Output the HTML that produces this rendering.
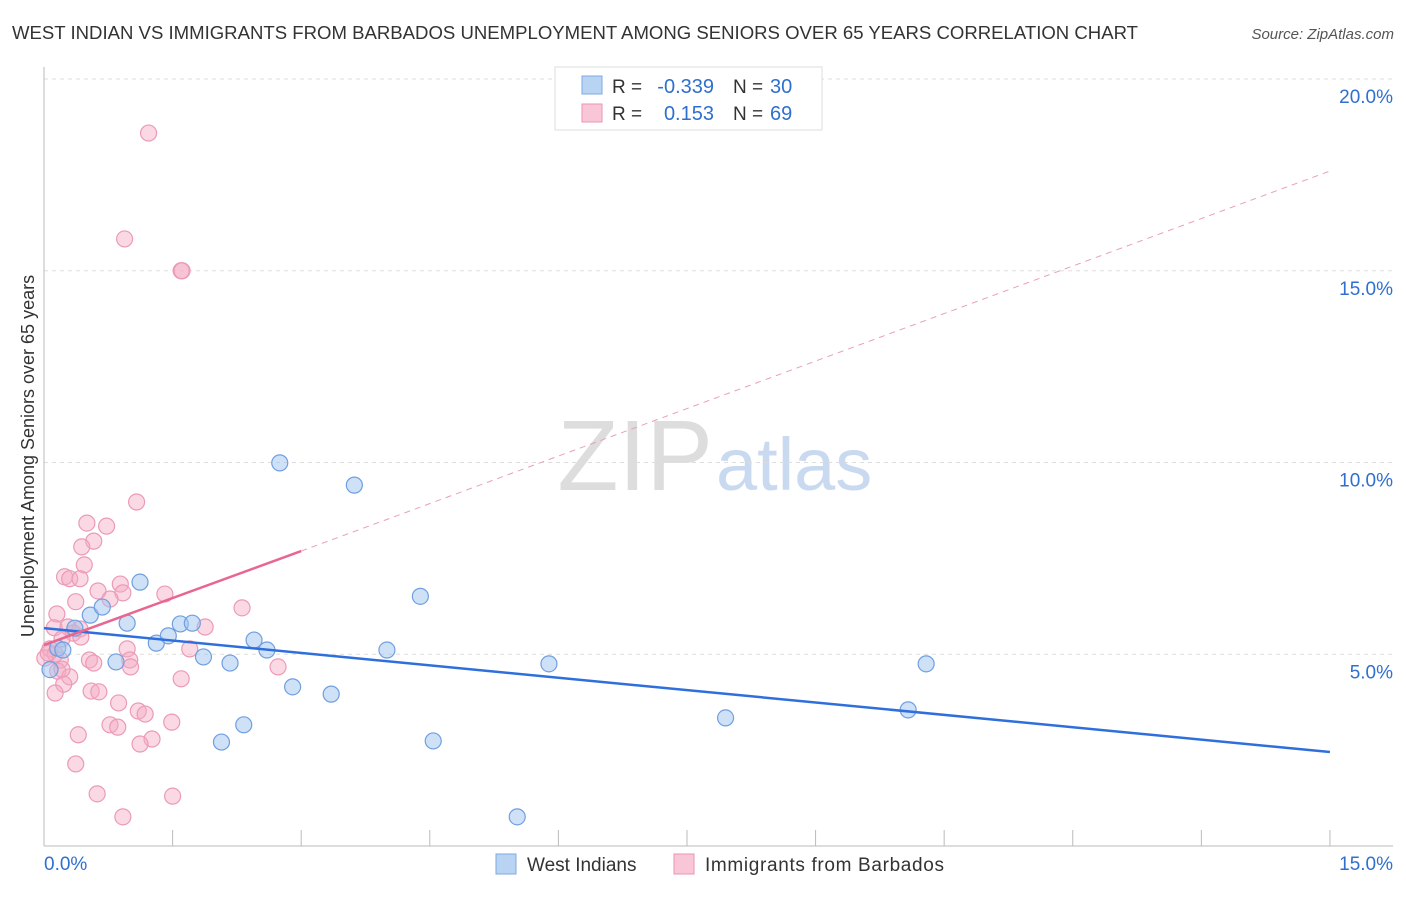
<!DOCTYPE html>
<html><head><meta charset="utf-8"><style>
body{margin:0;background:#fff;font-family:"Liberation Sans",sans-serif;}
svg text{font-family:"Liberation Sans",sans-serif;}
</style></head><body>
<svg id="chart" width="1406" height="892">
<text x="12" y="39" font-size="18" fill="#333" textLength="1126" lengthAdjust="spacingAndGlyphs">WEST INDIAN VS IMMIGRANTS FROM BARBADOS UNEMPLOYMENT AMONG SENIORS OVER 65 YEARS CORRELATION CHART</text>
<text x="1394" y="39" font-size="15" fill="#555" font-style="italic" text-anchor="end">Source: ZipAtlas.com</text>
<text x="713" y="490" font-size="100" fill="#ddd" text-anchor="end" font-family="Liberation Serif">ZIP</text>
<text x="716" y="490" font-size="74" fill="#c9daf0">atlas</text>
<g id="grid"></g><g id="axes"></g><g id="pts"></g><g id="lines"></g>
<text transform="translate(34,456) rotate(-90)" font-size="18" fill="#333" text-anchor="middle">Unemployment Among Seniors over 65 years</text>
<g>
<rect x="555" y="67" width="267" height="63" fill="#fff" stroke="#ddd"/>
<rect x="582" y="76" width="20" height="18" fill="#b9d3f3" stroke="#7ea8e0"/>
<rect x="582" y="104" width="20" height="18" fill="#f8c6d6" stroke="#eb95b2"/>
<text x="612" y="93" font-size="19" fill="#333">R =</text>
<text x="714" y="93" font-size="20" fill="#2f6fcf" text-anchor="end">-0.339</text>
<text x="733" y="93" font-size="19" fill="#333">N =</text>
<text x="770" y="93" font-size="20" fill="#2f6fcf">30</text>
<text x="612" y="120" font-size="19" fill="#333">R =</text>
<text x="714" y="120" font-size="20" fill="#2f6fcf" text-anchor="end">0.153</text>
<text x="733" y="120" font-size="19" fill="#333">N =</text>
<text x="770" y="120" font-size="20" fill="#2f6fcf">69</text>
</g>
<g>
<rect x="496" y="854" width="20" height="20" fill="#b9d3f3" stroke="#7ea8e0"/>
<text x="527" y="871" font-size="19" fill="#333">West Indians</text>
<rect x="674" y="854" width="20" height="20" fill="#f8c6d6" stroke="#eb95b2"/>
<text x="705" y="871" font-size="19" fill="#333" textLength="239">Immigrants from Barbados</text>
</g>
</svg>
<script>
const yTicks=[5,10,15,20];
const yTickLabels=["5.0%","10.0%","15.0%","20.0%"];
const xTicks=[0,1.5,3,4.5,6,7.5,9,10.5,12,13.5,15];
const blueX=[0.07,0.16,0.22,0.36,0.54,0.68,0.84,0.97,1.12,1.31,1.45,1.59,1.73,1.86,2.17,2.33,2.07,2.45,2.6,2.75,2.9,3.35,3.62,4.0,4.39,4.54,5.52,5.89,7.95,10.08,10.29];
const blueY=[4.6,5.16,5.11,5.68,6.02,6.23,4.8,5.81,6.88,5.29,5.48,5.79,5.81,4.93,4.77,3.16,2.71,5.37,5.11,9.99,4.15,3.96,9.41,5.11,6.51,2.74,0.76,4.75,3.34,3.55,4.75];
const pinkX=[1.22,0.94,1.6,1.61,1.08,0.5,0.73,0.58,0.44,0.47,0.24,0.3,0.42,0.89,0.92,1.41,0.63,0.77,0.37,0.15,2.31,0.12,0.28,0.42,1.88,0.34,0.43,0.21,0.07,0.13,1.7,0.97,0.01,0.19,0.53,0.58,1.0,1.01,2.73,0.16,0.3,1.6,0.23,0.13,0.55,0.64,0.87,1.1,1.18,0.77,0.86,1.49,0.4,1.26,1.12,0.37,0.62,1.5,0.92,0.21,0.05];
const pinkY=[18.59,15.83,15.0,15.0,8.97,8.42,8.34,7.95,7.8,7.33,7.02,6.97,6.97,6.83,6.6,6.57,6.65,6.44,6.37,6.05,6.21,5.69,5.71,5.66,5.71,5.55,5.45,5.4,5.14,5.01,5.14,5.14,4.9,4.85,4.85,4.77,4.85,4.67,4.67,4.56,4.41,4.36,4.22,3.99,4.04,4.02,3.73,3.52,3.44,3.16,3.1,3.23,2.9,2.79,2.66,2.14,1.36,1.3,0.76,4.61,5.03];
const blueFit=[5.68,2.45];
const pinkFit=[5.24,7.69,17.6];
const X=v=>44+v*85.73, Y=v=>846-v*38.35;
const NS="http://www.w3.org/2000/svg";
function mk(tag,attrs,parent){const e=document.createElementNS(NS,tag);for(const k in attrs)e.setAttribute(k,attrs[k]);document.getElementById(parent).appendChild(e);return e;}
yTicks.forEach((t,i)=>{
 const g=mk('line',{x1:44,x2:1393,y1:Y(t),y2:Y(t),stroke:'#ddd','stroke-dasharray':'4,4'},'grid');
 
 
 const l=mk('text',{x:1393,y:Y(t)+24,'font-size':19,fill:'#2f6fcf','text-anchor':'end'},'axes');
 l.textContent=yTickLabels[i];
 
 
});
const ax=mk('line',{x1:44,x2:44,y1:67,y2:846,stroke:'#bbb'},'axes');


const bx=mk('line',{x1:44,x2:1393,y1:846,y2:846,stroke:'#bbb'},'axes');


xTicks.forEach(t=>{
 const e=mk('line',{x1:X(t),x2:X(t),y1:846,y2:830,stroke:'#bbb'},'axes');
 
 
});
const xl0=mk('text',{x:44,y:870,'font-size':19,fill:'#2f6fcf'},'axes');xl0.textContent='0.0%';


const xl1=mk('text',{x:1393,y:870,'font-size':19,fill:'#2f6fcf','text-anchor':'end'},'axes');xl1.textContent='15.0%';


pinkX.forEach((x,i)=>{
 const c=mk('circle',{cx:X(x),cy:Y(pinkY[i]),r:8,fill:'rgba(245,170,195,0.45)',stroke:'#ec9ab6','stroke-width':1.2},'pts');
 
 
});
blueX.forEach((x,i)=>{
 const c=mk('circle',{cx:X(x),cy:Y(blueY[i]),r:8,fill:'rgba(160,195,240,0.5)',stroke:'#6f9fe0','stroke-width':1.2},'pts');
 
 
});
const bl=mk('line',{x1:X(0),y1:Y(blueFit[0]),x2:X(15),y2:Y(blueFit[1]),stroke:'#2f6fdc','stroke-width':2.5},'lines');


const pd=mk('line',{x1:X(3),y1:Y(pinkFit[1]),x2:X(15),y2:Y(pinkFit[2]),stroke:'#e8a0b8','stroke-width':1,'stroke-dasharray':'6,5'},'lines');


const pl=mk('line',{x1:X(0),y1:Y(pinkFit[0]),x2:X(3),y2:Y(pinkFit[1]),stroke:'#e8668f','stroke-width':2.5},'lines');


</script>
</body></html>
